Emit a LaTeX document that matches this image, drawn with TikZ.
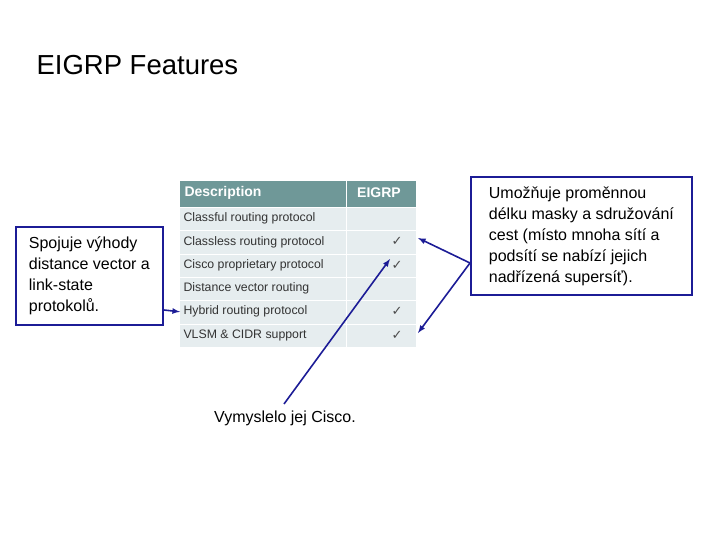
\documentclass[tikz,border=0pt]{standalone}
\usepackage{fontspec}
\setmainfont{Liberation Sans}
\newfontfamily\symfont{DejaVu Sans}
\begin{document}
\begin{tikzpicture}[x=1pt,y=-1pt,
  hdr/.style={fill=hcol,draw=white,line width=1pt,anchor=north west,inner sep=0pt},
  cellbox/.style={fill=rcol,draw=white,line width=1pt,anchor=north west,inner sep=0pt},
  ctxt/.style={font=\fontsize{12.3}{14}\selectfont,text=black!80,anchor=west},
  note/.style={draw=nblue,line width=1.8pt,align=left,inner sep=4pt,font=\fontsize{16}{21}\selectfont,anchor=north west},
  arr/.style={nblue,line width=1.6pt,-latex}]
\definecolor{hcol}{HTML}{6F9898}
\definecolor{rcol}{HTML}{E6EDEF}
\definecolor{nblue}{HTML}{1C1C96}
\useasboundingbox (0,0) rectangle (720,540);
\node[anchor=west,font=\fontsize{27.5}{32}\selectfont] (title) at (33,65) {EIGRP Features};
% table
\node[hdr,minimum width=167,minimum height=27] (h1) at (179,180) {};
\node[hdr,minimum width=70,minimum height=27] (h2) at (346,180) {};
\node[anchor=west,text=white,font=\bfseries\fontsize{14}{16}\selectfont] (h1t) at (181,193) {Description};
\node[anchor=center,text=white,font=\bfseries\fontsize{14}{16}\selectfont] (h2t) at (379,193) {EIGRP};
\foreach \i/\t/\c [count=\k] in {0/Classful routing protocol/0,1/Classless routing protocol/1,2/Cisco proprietary protocol/1,3/Distance vector routing/0,4/Hybrid routing protocol/1,5/VLSM \& CIDR support/1}{
  \node[cellbox,minimum width=167,minimum height=23.3] (a\k) at (179,207+23.3*\i) {};
  \node[cellbox,minimum width=70,minimum height=23.3] (b\k) at (346,207+23.3*\i) {};
  \node[ctxt] (t\k) at (180,218.6+23.3*\i) {\t};
  \ifnum\c=1 \node[font=\symfont\fontsize{13}{14}\selectfont,text=black!70] (c\k) at (397,218.6+23.3*\i) {✓};\fi
}
\node[note,minimum width=147,minimum height=98] (left) at (15,226) {Spojuje výhody\\distance vector a\\link-state\\protokolů.};
\node[note,minimum width=221,minimum height=118] (right) at (470,176) {Umožňuje proměnnou\\délku masky a sdružování\\cest (místo mnoha sítí a\\podsítí se nabízí jejich\\nadřízená supersíť).};
\node[anchor=center,font=\fontsize{16}{18}\selectfont] (cisco) at (285,418) {Vymyslelo jej Cisco.};
\coordinate (rs) at (470,263);
\coordinate (cs) at (284,404);
\draw[arr] (left.east |- 0,310) -- (t5.west);
\draw[arr] (rs) -- (418,238);
\draw[arr] (rs) -- (418,333);
\draw[arr] (cs) -- (390,259);
\end{tikzpicture}
\end{document}
